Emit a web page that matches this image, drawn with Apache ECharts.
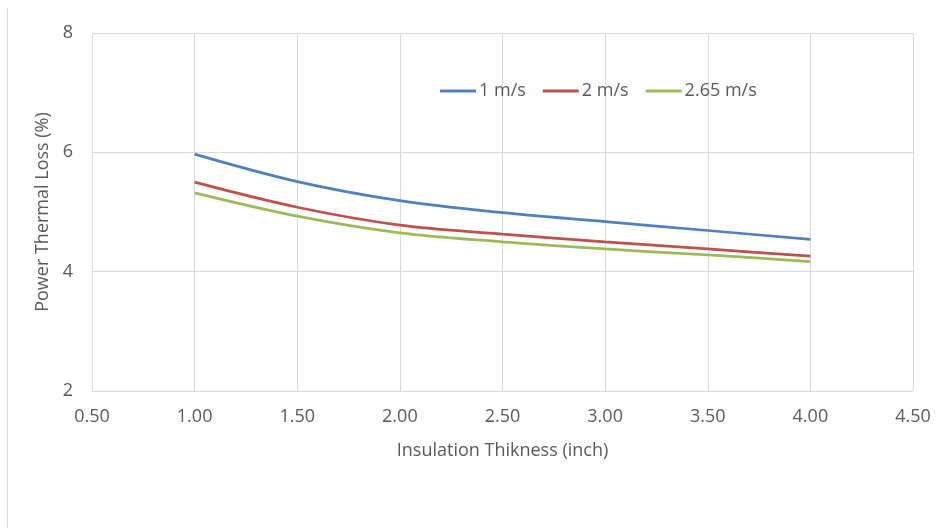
<!DOCTYPE html>
<html>
<head>
<meta charset="utf-8">
<script src="https://cdn.jsdelivr.net/npm/echarts@6/dist/echarts.min.js"></script>
<style>html,body{margin:0;padding:0;background:#fff}#c{width:941px;height:528px}</style>
</head>
<body>
<div id="c"></div>
<script>
const thickness = [1.0, 1.5, 2.0, 2.5, 3.0, 3.5, 4.0];
const speed1 = [5.97, 5.51, 5.19, 4.99, 4.84, 4.69, 4.54];
const speed2 = [5.50, 5.08, 4.78, 4.63, 4.50, 4.38, 4.26];
const speed265 = [5.32, 4.93, 4.65, 4.50, 4.38, 4.28, 4.17];
const seriesNames = ['1 m/s', '2 m/s', '2.65 m/s'];
const colors = ['#4F81BD', '#C0504D', '#9BBB59'];

const font = '"Open Sans", "Noto Sans", sans-serif';
const chart = echarts.init(document.getElementById('c'), null, {renderer: 'canvas'});
const mk = (arr) => thickness.map((x, i) => [x, arr[i]]);
chart.setOption({
  animation: false,
  textStyle: {fontFamily: font},
  grid: {left: 92, right: 28, top: 33, bottom: 137, containLabel: false},
  legend: {
    top: 77, left: 435,
    itemWidth: 36, itemHeight: 3, itemGap: 17,
    icon: 'rect',
    textStyle: {color: '#595959', fontSize: 18, fontFamily: font, padding: [0, 0, 0, -2]},
    data: seriesNames
  },
  xAxis: {
    type: 'value', min: 0.5, max: 4.5, interval: 0.5,
    name: 'Insulation Thikness (inch)', nameLocation: 'middle', nameGap: 51,
    nameTextStyle: {color: '#595959', fontSize: 18, fontFamily: font},
    axisLine: {show: false}, axisTick: {show: false},
    axisLabel: {color: '#595959', fontSize: 18, margin: 17, formatter: v => v.toFixed(2)},
    splitLine: {show: true, lineStyle: {color: '#D9D9D9', width: 1}}
  },
  yAxis: {
    type: 'value', min: 2, max: 8, interval: 2,
    name: 'Power Thermal Loss (%)', nameLocation: 'middle', nameGap: 40,
    nameTextStyle: {color: '#595959', fontSize: 18, fontFamily: font},
    axisLine: {show: false}, axisTick: {show: false},
    axisLabel: {color: '#595959', fontSize: 18, margin: 19},
    splitLine: {show: true, lineStyle: {color: '#D9D9D9', width: 1}}
  },
  graphic: [{type: 'line', shape: {x1: 7.5, y1: 8, x2: 7.5, y2: 528}, style: {stroke: '#D9D9D9', lineWidth: 1}}],
  series: [speed1, speed2, speed265].map((arr, i) => ({
    name: seriesNames[i], type: 'line', data: mk(arr), smooth: 0.35,
    showSymbol: false, symbol: 'none',
    lineStyle: {color: colors[i], width: 2.75}, itemStyle: {color: colors[i]}
  }))
});
</script>
</body>
</html>
